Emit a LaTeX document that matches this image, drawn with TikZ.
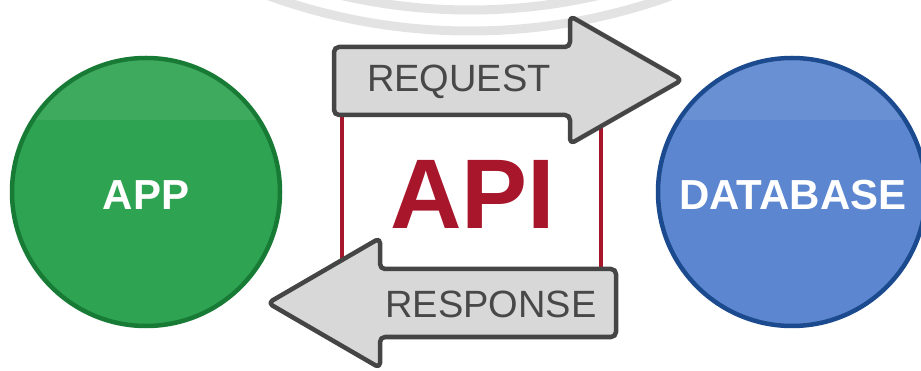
\documentclass[tikz,border=0pt]{standalone}
\usepackage{fontspec}
\setmainfont{Liberation Sans}
\definecolor{appfill}{HTML}{2EA351}
\definecolor{appedge}{HTML}{177A35}
\definecolor{dbfill}{HTML}{5C87D0}
\definecolor{dbedge}{HTML}{1C4A8F}
\definecolor{arrowfill}{HTML}{D8D8D8}
\definecolor{arrowedge}{HTML}{454545}
\definecolor{apired}{HTML}{A8162B}
\definecolor{ringgray}{HTML}{E3E3E3}
\definecolor{labelgray}{HTML}{484848}
\tikzset{
  endpoint/.style={circle, minimum size=268pt, inner sep=0pt, line width=4.5pt},
  endlabel/.style={text=white, inner sep=0pt, font=\bfseries\fontsize{42}{42}\selectfont},
  flowarrow/.style={fill=arrowfill, draw=arrowedge, line width=4.5pt,
    rounded corners=5pt, line join=round},
  flowlabel/.style={text=labelgray, inner sep=0pt, font=\fontsize{38}{38}\selectfont},
  apibox/.style={draw=apired, fill=white, line width=3.5pt},
  ring/.style={draw=ringgray, line width=9pt}
}
\begin{document}
\begin{tikzpicture}[x=1pt, y=-1pt]
  \useasboundingbox (0,0) rectangle (921,371);
  \begin{scope}
    \clip (0,0) rectangle (921,371);
    % faint rings along the top edge
    \draw[ring] (470,-560) circle[radius=591pt];
    \draw[ring] (470,-560) circle[radius=570pt];

    % the two end points
    \node[endpoint, fill=appfill, draw=appedge] (app) at (146,192) {};
    \node[endpoint, fill=dbfill, draw=dbedge] (db) at (792,192) {};
    % lighter cap over the upper part of each disc
    \begin{scope}
      \clip (app.center) circle[radius=132pt];
      \fill[white, opacity=0.08] (0,0) rectangle (921,120);
    \end{scope}
    \begin{scope}
      \clip (db.center) circle[radius=132pt];
      \fill[white, opacity=0.08] (0,0) rectangle (921,120);
    \end{scope}
    \node[endlabel] (applabel) at (146,195) {APP};
    \node[endlabel] (dblabel) at (793,195) {DATABASE};

    % API box
    \node[apibox, minimum width=259pt, minimum height=190pt, inner sep=0pt]
      (api) at (471.5,192) {};
    \node[text=apired, font=\bfseries\fontsize{99}{99}\selectfont, inner sep=0pt]
      (apilabel) at (473,194) {API};

    % request arrow (left to right)
    \draw[flowarrow] (334,47) -- (570,47) -- (570,16) -- (682,80)
      -- (570,144) -- (570,115) -- (334,115) -- cycle;
    \node[flowlabel] (request) at (459,82) {REQUEST};

    % response arrow (right to left)
    \draw[flowarrow] (616,269) -- (380,269) -- (380,238) -- (268,303)
      -- (380,368) -- (380,337) -- (616,337) -- cycle;
    \node[flowlabel] (response) at (491,304) {RESPONSE};
  \end{scope}
\end{tikzpicture}
\end{document}
